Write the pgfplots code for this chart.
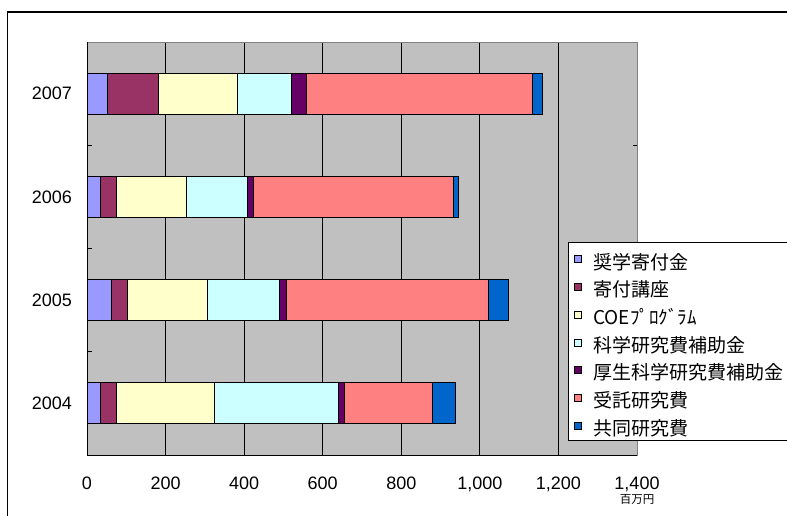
\documentclass[border=0pt]{standalone}
\usepackage{pgfplots}
\pgfplotsset{compat=1.18}
\usepackage{pgfplotstable}
\usepackage{fontspec}
\setmainfont{Liberation Sans}
\newfontfamily\jp{Noto Sans CJK JP}

\definecolor{cShogaku}{HTML}{9999FF}
\definecolor{cKifu}{HTML}{993366}
\definecolor{cCOE}{HTML}{FFFFCC}
\definecolor{cKaken}{HTML}{CCFFFF}
\definecolor{cKosei}{HTML}{660066}
\definecolor{cJutaku}{HTML}{FF8080}
\definecolor{cKyodo}{HTML}{0066CC}
\definecolor{plotgray}{HTML}{C0C0C0}
\definecolor{framegray}{HTML}{808080}

% funding by source, million yen; y = 0..3 for 2004..2007
\pgfplotstableread{
y  shogaku kifu coe kaken kosei jutaku kyodo
0  35      39   251 316   14    224    58
1  61      41   205 182   19    513    51
2  35      39   179 155   15    510    13
3  52      131  199 138   38    575    27
}\funding

% small square swatch for the legend
\pgfplotsset{
  swatch legend/.style={
    legend image code/.code={
      \draw[##1, draw=black, line width=0.8pt] (0pt,-4.67pt) rectangle (7.3pt,2.33pt);
    },
  },
}

\begin{document}
\begin{tikzpicture}[x=1pt,y=1pt]
\useasboundingbox (0,0) rectangle (787,515);
% outer chart frame
\draw[line width=1.3pt] (7.3,-5) -- (7.3,503) -- (800,503);

\begin{axis}[
  at={(87pt,60pt)}, anchor=south west,
  scale only axis, width=550pt, height=413pt,
  xbar stacked, bar width=41pt,
  every axis plot post/.append style={draw=black, line width=0.8pt, swatch legend},
  xmin=0, xmax=1400, ymin=-0.5, ymax=3.5,
  xtick={0,200,...,1200},
  extra x ticks={1400}, extra x tick style={grid=none},
  ytick={0,1,2,3}, yticklabels={2004,2005,2006,2007},
  minor ytick={0.5,1.5,2.5},
  tick align=inside,
  major tick length=0pt, minor tick length=4.5pt,
  minor tick style={black, line width=0.8pt},
  xmajorgrids, major grid style={black, line width=0.9pt},
  axis background/.style={fill=plotgray},
  axis line style={draw=framegray, line width=1pt},
  ticklabel style={font=\fontsize{18}{18}\selectfont},
  /pgf/number format/assume math mode=true,
  /pgf/number format/1000 sep={,},
  xticklabel style={anchor=north, inner sep=0pt, yshift=-21.5pt},
  yticklabel style={anchor=east, inner sep=0pt, xshift=-15pt},
  legend cell align=left,
  legend style={
    at={(0.875,0.5165)}, anchor=north west,
    draw=black, line width=0.8pt, fill=white,
    font=\jp\fontsize{19}{19}\selectfont,
    inner xsep=5pt, inner ysep=2.3pt,
    row sep=0pt, column sep=10pt,
    nodes={inner xsep=1.5pt, inner ysep=0pt, text height=24.9pt, text depth=2.77pt},
  },
  after end axis/.code={
    \draw[black, line width=1pt] (rel axis cs:0,1) -- (rel axis cs:0,0) -- (rel axis cs:1,0);
    \node[font=\jp\fontsize{11.5}{11.5}\selectfont] at ([yshift=-44.5pt]rel axis cs:1,0) {百万円};
  },
]
\addplot[fill=cShogaku] table[x=shogaku, y=y] {\funding};
\addplot[fill=cKifu]    table[x=kifu,    y=y] {\funding};
\addplot[fill=cCOE]     table[x=coe,     y=y] {\funding};
\addplot[fill=cKaken]   table[x=kaken,   y=y] {\funding};
\addplot[fill=cKosei]   table[x=kosei,   y=y] {\funding};
\addplot[fill=cJutaku]  table[x=jutaku,  y=y] {\funding};
\addplot[fill=cKyodo]   table[x=kyodo,   y=y] {\funding};
\legend{奨学寄付金, 寄付講座, COEﾌﾟﾛｸﾞﾗﾑ, 科学研究費補助金, 厚生科学研究費補助金, 受託研究費, 共同研究費}
\end{axis}
\end{tikzpicture}
\end{document}
